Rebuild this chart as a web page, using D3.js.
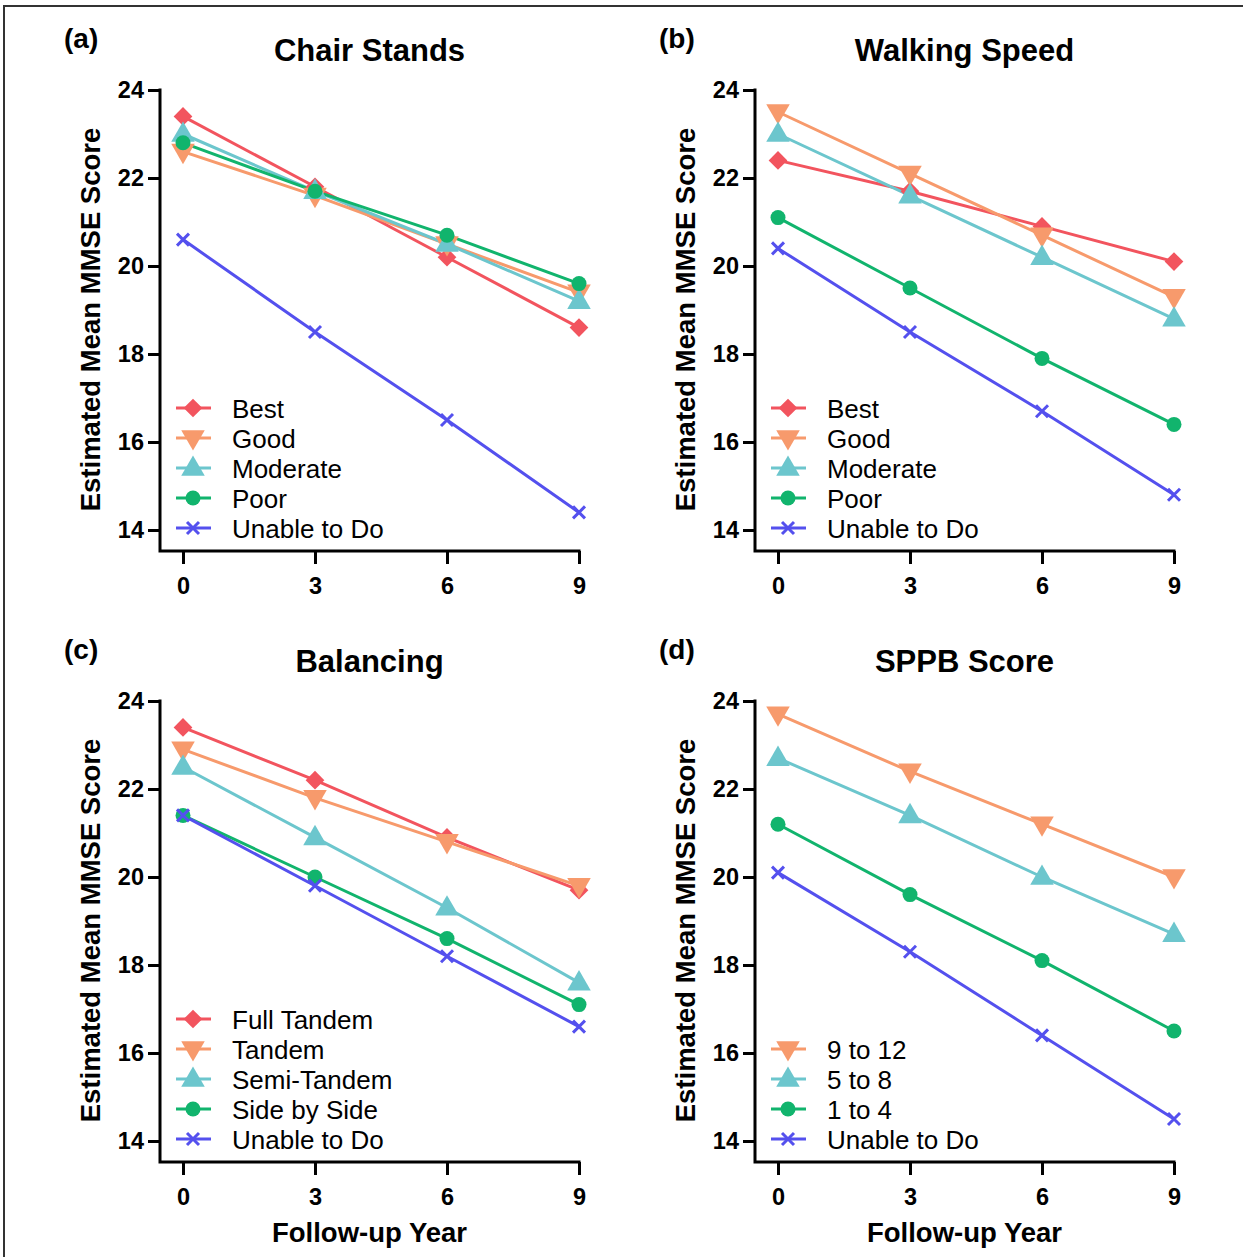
<!DOCTYPE html>
<html>
<head>
<meta charset="utf-8">
<script src="https://cdn.jsdelivr.net/npm/d3@7"></script>
<style>
  body { margin: 0; background: #fff; }
  svg { display: block; }
  text { font-family: "Liberation Sans", Arial, Helvetica, sans-serif; }
</style>
</head>
<body>
<svg id="chart" width="1243" height="1257"></svg>
<script>
// ---------- data ----------
const years = [0, 3, 6, 9];
const yTicks = [14, 16, 18, 20, 22, 24];

const panelLabels = ["(a)", "(b)", "(c)", "(d)"];
const panelTitles = ["Chair Stands", "Walking Speed", "Balancing", "SPPB Score"];

const chairSeries = ["Best", "Good", "Moderate", "Poor", "Unable to Do"];
const chairBest = [23.4, 21.8, 20.2, 18.6];
const chairGood = [22.6, 21.6, 20.5, 19.4];
const chairModerate = [23.0, 21.7, 20.5, 19.2];
const chairPoor = [22.8, 21.7, 20.7, 19.6];
const chairUnable = [20.6, 18.5, 16.5, 14.4];

const walkSeries = ["Best", "Good", "Moderate", "Poor", "Unable to Do"];
const walkBest = [22.4, 21.7, 20.9, 20.1];
const walkGood = [23.5, 22.1, 20.7, 19.3];
const walkModerate = [23.0, 21.6, 20.2, 18.8];
const walkPoor = [21.1, 19.5, 17.9, 16.4];
const walkUnable = [20.4, 18.5, 16.7, 14.8];

const balSeries = ["Full Tandem", "Tandem", "Semi-Tandem", "Side by Side", "Unable to Do"];
const balFull = [23.4, 22.2, 20.9, 19.7];
const balTandem = [22.9, 21.8, 20.8, 19.8];
const balSemi = [22.5, 20.9, 19.3, 17.6];
const balSide = [21.4, 20.0, 18.6, 17.1];
const balUnable = [21.4, 19.8, 18.2, 16.6];

const sppbSeries = ["9 to 12", "5 to 8", "1 to 4", "Unable to Do"];
const sppbHigh = [23.7, 22.4, 21.2, 20.0];
const sppbMid = [22.7, 21.4, 20.0, 18.7];
const sppbLow = [21.2, 19.6, 18.1, 16.5];
const sppbUnable = [20.1, 18.3, 16.4, 14.5];

// ---------- styles ----------
const styleBy = {
  diamond: { color: "#F2545E", shape: "diamond" },
  down:    { color: "#F79A6C", shape: "down" },
  up:      { color: "#6CC6CD", shape: "up" },
  circle:  { color: "#11B46D", shape: "circle" },
  cross:   { color: "#5450EE", shape: "cross" }
};

const panels = [
  { names: chairSeries, values: [chairBest, chairGood, chairModerate, chairPoor, chairUnable],
    styles: ["diamond", "down", "up", "circle", "cross"], col: 0, row: 0 },
  { names: walkSeries, values: [walkBest, walkGood, walkModerate, walkPoor, walkUnable],
    styles: ["diamond", "down", "up", "circle", "cross"], col: 1, row: 0 },
  { names: balSeries, values: [balFull, balTandem, balSemi, balSide, balUnable],
    styles: ["diamond", "down", "up", "circle", "cross"], col: 0, row: 1 },
  { names: sppbSeries, values: [sppbHigh, sppbMid, sppbLow, sppbUnable],
    styles: ["down", "up", "circle", "cross"], col: 1, row: 1 }
];

// ---------- layout ----------
const colYAxisX = [160, 755];
const colX0 = [183, 778];
const colX9 = [579, 1174];
const rowY24 = [90, 701];
const rowY14 = [530, 1141];
const rowXAxisY = [551, 1162];

const svg = d3.select("#chart");

// outer frame (top and left edges visible)
svg.append("rect")
  .attr("x", 4).attr("y", 6).attr("width", 1400).attr("height", 1400)
  .attr("fill", "none").attr("stroke", "#333").attr("stroke-width", 2);

function drawMarker(g, shape, color, cx, cy) {
  if (shape === "circle") {
    g.append("circle").attr("cx", cx).attr("cy", cy).attr("r", 7.5).attr("fill", color);
  } else if (shape === "diamond") {
    g.append("path")
      .attr("d", d3.symbol().type(d3.symbolSquare).size(175)())
      .attr("transform", `translate(${cx},${cy}) rotate(45)`)
      .attr("fill", color);
  } else if (shape === "up") {
    g.append("path")
      .attr("d", d3.symbol().type(d3.symbolTriangle).size(240)())
      .attr("transform", `translate(${cx},${cy + 1})`)
      .attr("fill", color);
  } else if (shape === "down") {
    g.append("path")
      .attr("d", d3.symbol().type(d3.symbolTriangle).size(240)())
      .attr("transform", `translate(${cx},${cy - 1}) rotate(180)`)
      .attr("fill", color);
  } else if (shape === "cross") {
    const s = 6;
    g.append("path")
      .attr("d", `M${cx - s},${cy - s}L${cx + s},${cy + s}M${cx - s},${cy + s}L${cx + s},${cy - s}`)
      .attr("stroke", color).attr("stroke-width", 3).attr("fill", "none");
  }
}

panels.forEach((p, pi) => {
  const axX = colYAxisX[p.col];
  const axY = rowXAxisY[p.row];
  const x = d3.scaleLinear().domain([0, 9]).range([colX0[p.col], colX9[p.col]]);
  const y = d3.scaleLinear().domain([14, 24]).range([rowY14[p.row], rowY24[p.row]]);
  const g = svg.append("g");

  // y axis
  const ya = g.append("g").attr("transform", `translate(${axX},0)`)
    .call(d3.axisLeft(y).tickValues(yTicks).tickSize(12).tickSizeOuter(0).tickPadding(4));
  ya.select(".domain").remove();
  ya.selectAll(".tick line").attr("stroke", "#000").attr("stroke-width", 3);
  ya.selectAll(".tick text").attr("font-size", 23.5).attr("font-weight", "bold").attr("fill", "#000");

  // x axis
  const xa = g.append("g").attr("transform", `translate(0,${axY})`)
    .call(d3.axisBottom(x).tickValues(years).tickSize(13).tickSizeOuter(0).tickPadding(13));
  xa.select(".domain").remove();
  xa.selectAll(".tick line").attr("stroke", "#000").attr("stroke-width", 3);
  xa.selectAll(".tick text").attr("font-size", 23.5).attr("font-weight", "bold").attr("fill", "#000");

  // axis lines
  g.append("path")
    .attr("d", `M${axX},${y(24)}L${axX},${axY}L${x(9)},${axY}`)
    .attr("fill", "none").attr("stroke", "#000").attr("stroke-width", 3)
    .attr("stroke-linejoin", "miter").attr("stroke-linecap", "square");

  // panel label
  g.append("text")
    .attr("x", axX - 96).attr("y", rowY24[p.row] - 42)
    .attr("font-size", 28).attr("font-weight", "bold").text(panelLabels[pi]);

  // title
  g.append("text")
    .attr("x", (axX + x(9)) / 2).attr("y", rowY24[p.row] - 29)
    .attr("text-anchor", "middle")
    .attr("font-size", 31).attr("font-weight", "bold").text(panelTitles[pi]);

  // y axis title
  g.append("text")
    .attr("transform", `translate(${axX - 60},${(y(24) + axY) / 2 - 1}) rotate(-90)`)
    .attr("text-anchor", "middle")
    .attr("font-size", 27.5).attr("font-weight", "bold").text("Estimated Mean MMSE Score");

  // x axis title (bottom row only)
  if (p.row === 1) {
    g.append("text")
      .attr("x", (axX + x(9)) / 2).attr("y", axY + 80)
      .attr("text-anchor", "middle")
      .attr("font-size", 27.5).attr("font-weight", "bold").text("Follow-up Year");
  }

  // series
  const line = d3.line().x((d, i) => x(years[i])).y(d => y(d));
  p.values.forEach((vals, si) => {
    const st = styleBy[p.styles[si]];
    g.append("path").attr("d", line(vals))
      .attr("fill", "none").attr("stroke", st.color).attr("stroke-width", 3);
  });
  p.values.forEach((vals, si) => {
    const st = styleBy[p.styles[si]];
    vals.forEach((v, i) => drawMarker(g, st.shape, st.color, x(years[i]), y(v)));
  });

  // legend
  const n = p.names.length;
  const legY0 = rowY14[p.row] - 2 - (n - 1) * 30;
  const lx0 = axX + 16;
  p.names.forEach((name, si) => {
    const st = styleBy[p.styles[si]];
    const ly = legY0 + si * 30;
    g.append("line").attr("x1", lx0).attr("x2", lx0 + 35).attr("y1", ly).attr("y2", ly)
      .attr("stroke", st.color).attr("stroke-width", 3);
    drawMarker(g, st.shape, st.color, lx0 + 17, ly);
    g.append("text").attr("x", lx0 + 56).attr("y", ly + 9.5)
      .attr("font-size", 26).attr("fill", "#000").text(name);
  });
});
</script>
</body>
</html>
